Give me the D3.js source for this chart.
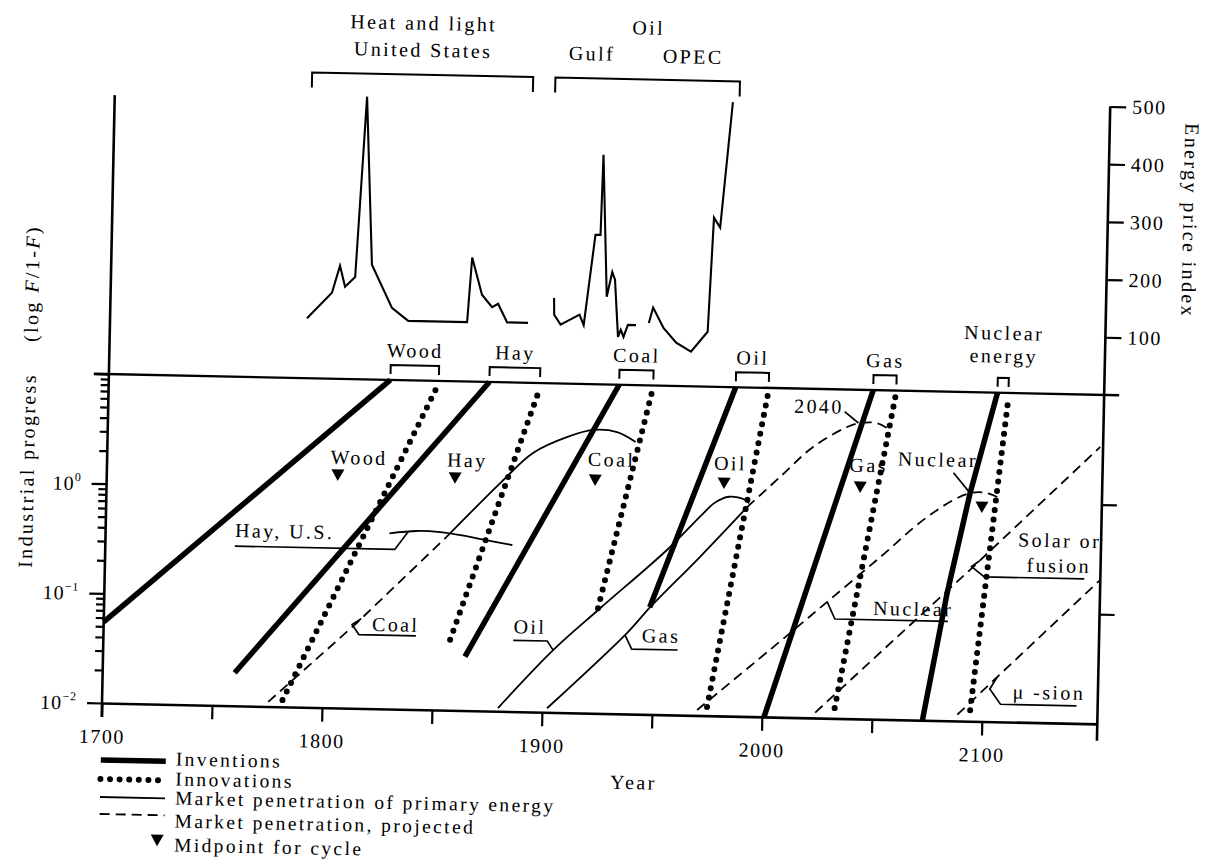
<!DOCTYPE html>
<html>
<head>
<meta charset="utf-8">
<script src="https://cdn.jsdelivr.net/npm/d3@7"></script>
<style>
  body { margin: 0; background: #fff; }
  svg text { font-family: "Liberation Serif", "DejaVu Serif", serif; fill: #000; }
</style>
</head>
<body>
<div id="chart"></div>
<script>
// values: [year, F/(1-F)] for the lower panel, [year, price index] for the upper one
const sources = ["Wood", "Hay", "Coal", "Oil", "Gas", "Nuclear"];

const inventionLines = [
  [[1700, 0.055], [1828, 10]],
  [[1760, 0.02], [1873, 10]],
  [[1864.5, 0.031], [1932, 10]],
  [[1948, 0.095], [1985, 10]],
  [[2001, 0.01], [2047.5, 10]],
  [[2073, 0.01], [2083, 0.145], [2092.5, 1.2], [2104, 10]]
];

const innovationLines = [
  [[1782, 0.0115], [1850, 9.5]],
  [[1857.6, 0.044], [1896, 9]],
  [[1924.5, 0.091], [1947.5, 9.7]],
  [[1975, 0.012], [2000, 9.5]],
  [[2033, 0.0124], [2058, 9.7]],
  [[2094.6, 0.0126], [2109, 8.9]]
];

const midYears = [1805, 1858.3, 1922, 1980.6, 2042.5, 2098];
const midValues = [1.33, 1.32, 1.34, 1.33, 1.3, 0.9];

const hayUS = [[1829, 0.40], [1841.5, 0.425], [1852, 0.42], [1864, 0.39], [1873.5, 0.36], [1885, 0.33]];
const coalProjected = [[1775.5, 0.011], [1815, 0.06], [1855, 0.38]];
const coalShare = [[1855, 0.38], [1879, 1.21], [1893.5, 2.3], [1909, 3.27], [1920.6, 3.83], [1931.5, 3.7], [1940, 3.03]];
const oilShare = [[1880, 0.0107], [1904.5, 0.037], [1925.5, 0.091], [1955.4, 0.32], [1970, 0.65], [1976, 0.86],
  [1980, 0.96], [1983, 1.0], [1987, 0.99], [1990, 0.95], [1992.2, 0.88]];
const gasShare = [[1902.3, 0.0109], [1938, 0.055], [1948.2, 0.095], [1970.4, 0.28], [1991.3, 0.81]];
const gasProjected = [[1991.3, 0.81], [2006, 1.55], [2020.7, 2.95], [2036, 4.55], [2042, 4.98], [2049.6, 5.0], [2055.6, 4.37]];
const nuclearProjected = [[1970.5, 0.0112], [2008.5, 0.051], [2028.6, 0.115], [2052.2, 0.30], [2071.5, 0.67],
  [2085, 1.03], [2092.5, 1.2], [2099, 1.22], [2104.9, 1.12]];
const solarProjected = [[2024.2, 0.0112], [2095, 0.26], [2151.2, 3.35]];
const musionProjected = [[2088.8, 0.0114], [2152.5, 0.206]];

const heatLightPrice = [[1789.5, 104], [1800.6, 149], [1804, 196], [1806.5, 160], [1811, 177], [1814.7, 490],
  [1818.5, 199], [1828, 125], [1835.5, 103], [1862.3, 103], [1864, 215], [1868.8, 151], [1873.5, 130],
  [1876.2, 136], [1880.5, 104], [1890, 104]];
const oilGulfPrice = [[1901.6, 148], [1901.8, 119], [1904.8, 102], [1913.3, 120], [1915.3, 102], [1919.8, 259],
  [1922.1, 259], [1922.7, 398], [1925.5, 152], [1927.8, 195], [1929.1, 182], [1931, 83], [1932.2, 95],
  [1933.5, 83], [1935.4, 104], [1939.1, 104]];
const oilOpecPrice = [[1944.9, 108], [1946.7, 135], [1951.6, 100], [1957.5, 75], [1964.3, 60], [1971.7, 95],
  [1973.5, 293], [1976.4, 276], [1981, 494]];

const yearTicks = [1700, 1750, 1800, 1850, 1900, 1950, 2000, 2050, 2100];
const priceTicks = [100, 200, 300, 400, 500];
const legendItems = ["Inventions", "Innovations", "Market penetration of primary energy",
  "Market penetration, projected", "Midpoint for cycle"];

// ---- drawing ----
const FONT = '"Liberation Serif", "DejaVu Serif", serif';
const svg = d3.select("#chart").append("svg").attr("width", 1208).attr("height", 859);
svg.append("rect").attr("width", 1208).attr("height", 859).attr("fill", "#fff");

const ox = 102, oy = 703;
// the printed figure is scanned a little crooked, so the whole plot is turned by about a degree
const g = svg.append("g").attr("transform", `rotate(1.2,${ox},${oy})`);

const x = d3.scaleLinear().domain([1700, 2152.5]).range([ox, ox + 452.5 * 2.2]);
const y = d3.scaleLog().domain([0.01, 10]).range([oy, oy - 329]);
const yp = d3.scaleLinear().domain([0, 500]).range([y(10), y(10) - 288.5]);
const xr = x(2152.5);
const topY = y(10);

function addText(parent, str, px, py, anchor = "middle", size = 20, ls = 2.4) {
  return parent.append("text").attr("x", px).attr("y", py)
    .attr("text-anchor", anchor)
    .attr("font-family", FONT)
    .style("font-size", size + "px")
    .style("letter-spacing", ls + "px")
    .text(str);
}

function styleAxis(sel) {
  sel.attr("font-size", null).attr("font-family", FONT);
  sel.selectAll("line").attr("stroke", "#000").attr("stroke-width", 2.2);
  sel.selectAll("text").style("font-size", "20px").style("letter-spacing", "1.5px");
}

// bottom axis
g.append("g").attr("transform", `translate(0,${oy})`)
  .call(d3.axisBottom(x).tickValues(yearTicks).tickSize(14).tickSizeOuter(0).tickPadding(12)
    .tickFormat(d => d % 100 === 0 ? d : ""))
  .call(styleAxis)
  .select(".domain").attr("stroke", "#000").attr("stroke-width", 2.6);

// left log axis
const minorTicks = [];
[0.01, 0.1, 1].forEach(dec => { for (let k = 2; k <= 9; k++) minorTicks.push(k * dec); });
g.append("g").attr("transform", `translate(${ox},0)`)
  .call(d3.axisLeft(y).tickValues(minorTicks).tickSize(8).tickFormat(""))
  .call(styleAxis)
  .select(".domain").remove();
g.append("g").attr("transform", `translate(${ox},0)`)
  .call(d3.axisLeft(y).tickValues([0.01, 0.1, 1, 10]).tickSize(15).tickFormat(""))
  .call(styleAxis)
  .select(".domain").remove();
[1, 0.1, 0.01].forEach(v => {
  const t = addText(g, "10", ox - 25, y(v) + 7, "end", 20, 1);
  const e = Math.round(Math.log10(v));
  t.append("tspan").attr("dy", -9).style("font-size", "12px").text(e === 0 ? "0" : "\u2212" + (-e));
});
g.append("line").attr("x1", ox).attr("x2", ox).attr("y1", oy + 14).attr("y2", oy - 608)
  .attr("stroke", "#000").attr("stroke-width", 2.6);

// panel top line (10^1)
g.append("line").attr("x1", ox - 15).attr("x2", xr + 15).attr("y1", topY).attr("y2", topY)
  .attr("stroke", "#000").attr("stroke-width", 2.3);

// right axis: price index above, plain ticks below
g.append("line").attr("x1", xr).attr("x2", xr).attr("y1", oy + 17).attr("y2", yp(500))
  .attr("stroke", "#000").attr("stroke-width", 2.6);
g.append("g").attr("transform", `translate(${xr},0)`)
  .call(d3.axisRight(yp).tickValues(priceTicks).tickSize(16).tickPadding(6))
  .call(styleAxis)
  .select(".domain").remove();
g.append("g").attr("transform", `translate(${xr},0)`)
  .call(d3.axisRight(y).tickValues([0.1, 1]).tickSize(15).tickFormat(""))
  .call(styleAxis)
  .select(".domain").remove();

// axis titles
addText(g, "Industrial progress", 0, 0).attr("transform", `translate(22,472) rotate(-90)`)
  .attr("dominant-baseline", "central");
const logLab = addText(g, "", 0, 0).attr("transform", `translate(23,285) rotate(-90)`)
  .attr("dominant-baseline", "central");
logLab.append("tspan").text("(log  ");
logLab.append("tspan").style("font-style", "italic").text("F");
logLab.append("tspan").text("/1-");
logLab.append("tspan").style("font-style", "italic").text("F");
logLab.append("tspan").text(")");
addText(g, "Energy price index", 0, 0).attr("transform", `translate(1180,198) rotate(90)`)
  .attr("dominant-baseline", "central");
addText(g, "Year", 635, 778);

// line generators
const straight = d3.line().x(d => x(d[0])).y(d => y(d[1]));
const smooth = d3.line().x(d => x(d[0])).y(d => y(d[1])).curve(d3.curveCatmullRom.alpha(0.5));
const priceLine = d3.line().x(d => x(d[0])).y(d => yp(d[1]));

const styles = {
  invention: { w: 5.5, dash: null, cap: "butt" },
  innovation: { w: 6, dash: "0 9.6", cap: "round" },
  solid: { w: 1.8, dash: null, cap: "butt" },
  dashed: { w: 1.8, dash: "10 6", cap: "butt" }
};
function drawPath(d, st) {
  const s = styles[st];
  return g.append("path").attr("d", d).attr("fill", "none").attr("stroke", "#000")
    .attr("stroke-width", s.w).attr("stroke-dasharray", s.dash).attr("stroke-linecap", s.cap)
    .attr("stroke-linejoin", "round");
}

inventionLines.forEach(l => drawPath(straight(l), "invention"));
innovationLines.forEach(l => drawPath(straight(l), "innovation"));

drawPath(smooth(hayUS), "solid");
drawPath(straight(coalProjected), "dashed");
drawPath(smooth(coalShare), "solid");
drawPath(smooth(oilShare), "solid");
drawPath(smooth(gasShare), "solid");
drawPath(smooth(gasProjected), "dashed");
drawPath(smooth(nuclearProjected), "dashed");
drawPath(straight(solarProjected), "dashed");
drawPath(straight(musionProjected), "dashed");

// price curves
[heatLightPrice, oilGulfPrice, oilOpecPrice].forEach(p =>
  g.append("path").attr("d", priceLine(p)).attr("fill", "none").attr("stroke", "#000")
    .attr("stroke-width", 2.1).attr("stroke-linejoin", "miter"));

// midpoint triangles
const tri = "M-6.5,-5.5L6.5,-5.5L0,6Z";
midYears.forEach((yr, i) => {
  g.append("path").attr("d", tri).attr("fill", "#000")
    .attr("transform", `translate(${x(yr)},${y(midValues[i])})`);
});
const midLabelOffsets = [[21, -11], [12, -11], [16, -14], [6, -13], [8, -15]];
midLabelOffsets.forEach((o, i) => {
  addText(g, sources[i], x(midYears[i]) + o[0], y(midValues[i]) + o[1]);
});

// brackets over each invention/innovation pair
sources.forEach((s, i) => {
  const x1 = x(inventionLines[i][inventionLines[i].length - 1][0]);
  const x2 = x(innovationLines[i][innovationLines[i].length - 1][0]);
  g.append("path").attr("d", `M${x1},${topY - 6}V${topY - 15}H${x2}V${topY - 6}`)
    .attr("fill", "none").attr("stroke", "#000").attr("stroke-width", 2);
  const cx = (x1 + x2) / 2;
  if (s === "Nuclear") {
    addText(g, "Nuclear", cx, topY - 53);
    addText(g, "energy", cx, topY - 30);
  } else {
    addText(g, s, cx, topY - 23);
  }
});

// brackets over the price curves (a couple of years of overhang as printed)
const priceGroups = [
  { series: [heatLightPrice], pad: [0, 0], labels: [["Heat and light", null, -45], ["United States", null, -18]] },
  { series: [oilGulfPrice, oilOpecPrice], pad: [1.5, 3], labels: [["Oil", null, -45], ["Gulf", 1916.5, -18], ["OPEC", 1962.5, -17]] }
];
priceGroups.forEach(pg => {
  const all = pg.series.flat();
  const x1 = x(d3.min(all, d => d[0]) - pg.pad[0]), x2 = x(d3.max(all, d => d[0]) + pg.pad[1]);
  const by = yp(530);
  g.append("path").attr("d", `M${x1},${by + 15}V${by}H${x2}V${by + 15}`)
    .attr("fill", "none").attr("stroke", "#000").attr("stroke-width", 2);
  pg.labels.forEach(([t, yr, dy]) => addText(g, t, yr ? x(yr) : (x1 + x2) / 2, by + dy));
});

// callouts with leader lines
function valueAt(series, yr) {
  for (let i = 1; i < series.length; i++) {
    const [x0, v0] = series[i - 1], [x1, v1] = series[i];
    if (yr >= x0 && yr <= x1) {
      const t = (yr - x0) / (x1 - x0);
      return Math.pow(10, Math.log10(v0) + t * (Math.log10(v1) - Math.log10(v0)));
    }
  }
  return series[series.length - 1][1];
}
const callouts = [
  { text: ["Hay, U.S."], series: hayUS, year: 1837.5, path: [[0, 0], [-13, 18], [-173, 18]], tx: [-173], ty: [9] },
  { text: ["Coal"], series: coalProjected, year: 1817, path: [[0, 0], [-9, 6], [-2, 16], [55, 16]], tx: [11], ty: [12] },
  { text: ["Oil"], series: oilShare, year: 1904.5, path: [[0, 0], [-6, -9], [-40, -9]], tx: [-40], ty: [-16] },
  { text: ["Gas"], series: gasShare, year: 1937, path: [[0, 0], [7, 14], [53, 14]], tx: [17], ty: [7] },
  { text: ["Nuclear"], series: nuclearProjected, year: 2028.6, path: [[0, 0], [8, 17], [121, 17]], tx: [46], ty: [12] },
  { text: ["Solar or", "fusion"], series: solarProjected, year: 2097.5, path: [[0, 0], [-8, 6], [5, 16], [105, 16]], tx: [38, 47], ty: [-15, 10] },
  { text: ["\u03bc -sion"], series: musionProjected, year: 2106.5, path: [[0, 0], [-7, 12], [4, 27], [80, 27]], tx: [16], ty: [21] },
  { text: ["2040"], series: gasProjected, year: 2042, path: [[-2, 0], [-16, -11]], tx: [-17], ty: [-9], anchor: "end" },
  { text: ["Nuclear"], series: nuclearProjected, year: 2092.5, path: [[0, 0], [-17, -20]], tx: [-73], ty: [-26] }
];
callouts.forEach(c => {
  const ax = x(c.year), ay = y(valueAt(c.series, c.year));
  g.append("path").attr("d", d3.line()(c.path.map(p => [ax + p[0], ay + p[1]])))
    .attr("fill", "none").attr("stroke", "#000").attr("stroke-width", 1.7);
  c.text.forEach((t, k) => addText(g, t, ax + c.tx[k], ay + c.ty[k], c.anchor || "start"));
});

// legend
const legendStyle = ["invention", "innovation", "solid", "dashed"];
const legendLineY = [760, 779, 797, 814, 839];
const legendTextY = [764, 784, 803, 826, 850];
legendItems.forEach((t, i) => {
  if (i < 4) {
    drawPath(`M${ox},${legendLineY[i]}H${ox + 65}`, legendStyle[i]);
  } else {
    g.append("path").attr("d", tri).attr("fill", "#000").attr("transform", `translate(${ox + 58},${legendLineY[i]})`);
  }
  addText(g, t, ox + 75, legendTextY[i], "start", 19.5, 2.4);
});
</script>
</body>
</html>
